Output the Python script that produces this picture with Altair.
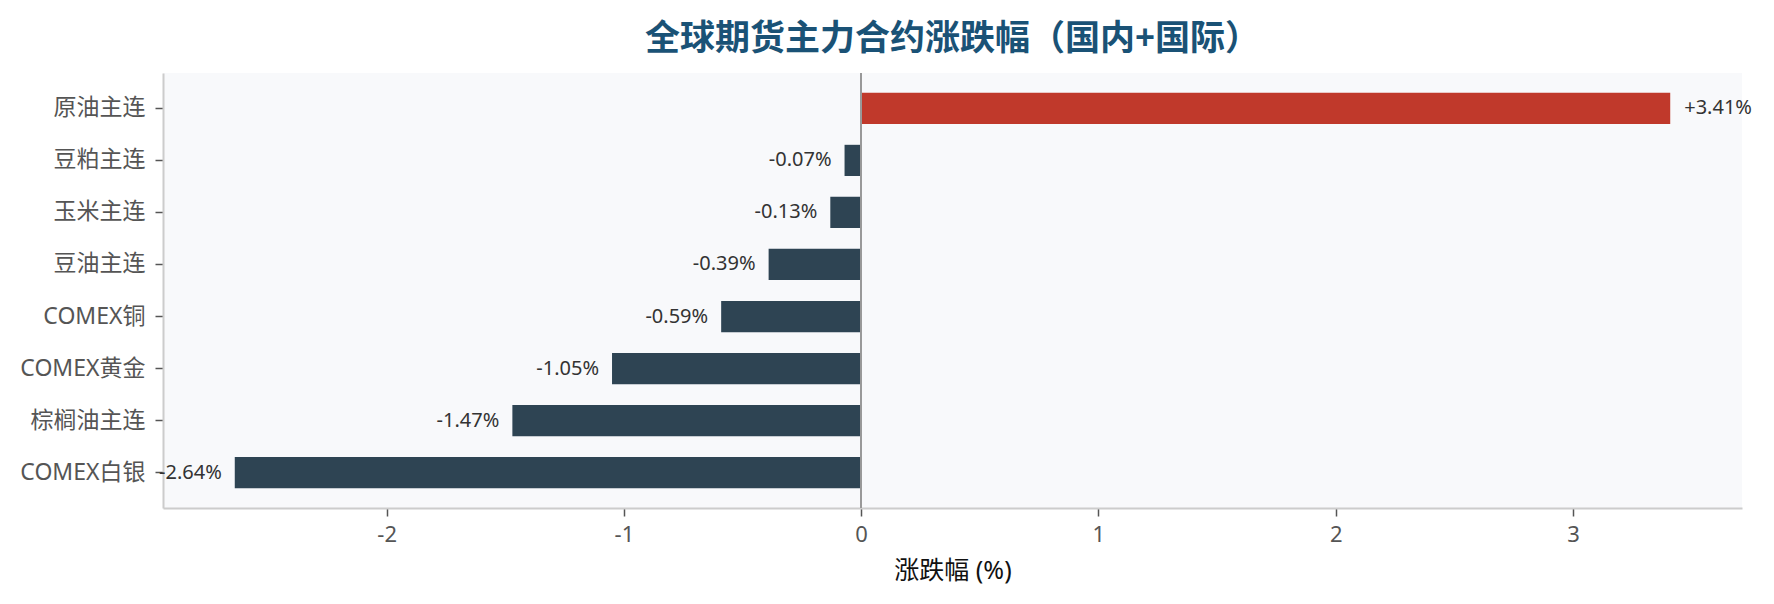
import altair as alt
import pandas as pd

categories = ["原油主连", "豆粕主连", "玉米主连", "豆油主连", "COMEX铜", "COMEX黄金", "棕榈油主连", "COMEX白银"]
changes = [3.41, -0.07, -0.13, -0.39, -0.59, -1.05, -1.47, -2.64]
x_ticks = [-2, -1, 0, 1, 2, 3]

df = pd.DataFrame({"name": categories, "chg": changes})
df["label"] = [f"{v:+.2f}%" for v in changes]
df["dir"] = ["up" if v > 0 else "down" for v in changes]

span = max(changes) - min(changes)
x_domain = [min(changes) - 0.05 * span, max(changes) + 0.05 * span]

FONT = "Noto Sans, Noto Sans CJK SC"

y_enc = alt.Y(
    "name:N",
    sort=categories,
    title=None,
    scale=alt.Scale(paddingInner=0.4, paddingOuter=0.38),
    axis=alt.Axis(
        domainColor="#cccccc", domainWidth=2,
        tickColor="#555555", tickSize=8, tickWidth=1.5,
        labelColor="#555555", labelFontSize=23, labelFont=FONT,
        labelPadding=10, grid=False,
    ),
)
x_enc = alt.X(
    "chg:Q",
    scale=alt.Scale(domain=x_domain, nice=False, zero=False),
    axis=alt.Axis(
        values=x_ticks, labelExpr="'' + datum.value", title="涨跌幅 (%)",
        domainColor="#cccccc", domainWidth=2,
        tickColor="#555555", tickSize=8, tickWidth=1.5,
        labelColor="#555555", labelFontSize=22, labelFont=FONT,
        labelPadding=8, grid=False,
        titleFont=FONT, titleFontSize=25, titleFontWeight="normal",
        titleColor="#111111", titlePadding=13,
    ),
)

base = alt.Chart(df)

bars = base.mark_bar().encode(
    y=y_enc,
    x=x_enc,
    color=alt.Color("dir:N", scale=alt.Scale(domain=["up", "down"], range=["#c0392b", "#2e4453"]), legend=None),
)

zero = base.mark_rule(color="#999999", strokeWidth=1.5).encode(x=alt.datum(0))

pos_text = base.transform_filter("datum.chg > 0").mark_text(
    align="left", baseline="middle", dx=14, fontSize=20, font=FONT, color="#333333"
).encode(y=alt.Y("name:N", sort=categories), x="chg:Q", text="label:N")

neg_text = base.transform_filter("datum.chg <= 0").mark_text(
    align="right", baseline="middle", dx=-13, fontSize=20, font=FONT, color="#333333"
).encode(y=alt.Y("name:N", sort=categories), x="chg:Q", text="label:N")

chart = alt.layer(bars, zero, pos_text, neg_text).properties(
    width=1579,
    height=435,
    title=alt.TitleParams(
        "全球期货主力合约涨跌幅（国内+国际）",
        fontSize=35, fontWeight="bold", color="#1a5276", font=FONT,
        anchor="middle", offset=15,
    ),
    autosize=alt.AutoSizeParams(type="none"),
    padding={"left": 155, "top": 65, "right": 24, "bottom": 80},
).configure_view(fill="#f8f9fb", stroke=None)

chart.save("out.html", embed_options={"renderer": "svg", "actions": False})
